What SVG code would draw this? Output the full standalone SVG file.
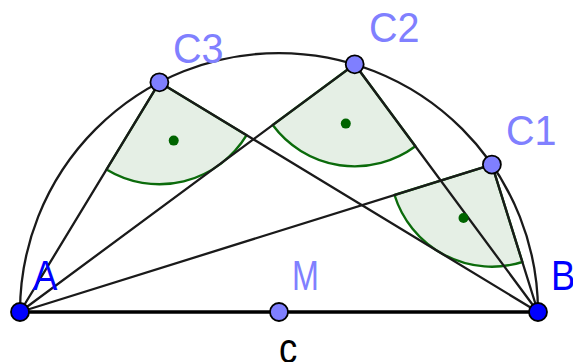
<svg xmlns="http://www.w3.org/2000/svg" width="573" height="362" viewBox="0 0 573 362">
<style>
.ln{stroke:#1a1a1a;stroke-width:2.3;fill:none;stroke-linecap:round}
.seg{stroke:#000;stroke-width:3.3;fill:none}
.sec{fill:#e5efe5;stroke:#0b6b0b;stroke-width:2.4;stroke-linejoin:round}
.gd{fill:#006400}
.pt{stroke:#000;stroke-width:1.8}
.pa{fill:#0000ff}
.pc{fill:#7f7fff}
.lb{font-family:"Liberation Sans",Arial,sans-serif;font-size:43px}
.lc{fill:#8080ff}
.lab{fill:#0000ff}
</style>
<g id="angles">
<path class="sec" d="M159.4 82.3 L106.5 169.5 A102 102 0 0 0 246.6 135.2 Z"/>
<path class="sec" d="M354.7 64.3 L272.7 125.0 A102 102 0 0 0 415.4 146.3 Z"/>
<path class="sec" d="M491.9 164.6 L394.5 195.0 A102 102 0 0 0 522.4 262.0 Z"/>
</g>
<g id="connectors">
<path class="ln" d="M20 312 A259 259 0 0 1 538 312"/>
<line class="ln" x1="20" y1="312" x2="159.4" y2="82.3"/>
<line class="ln" x1="20" y1="312" x2="354.7" y2="64.3"/>
<line class="ln" x1="20" y1="312" x2="491.9" y2="164.6"/>
<line class="ln" x1="538" y1="312" x2="159.4" y2="82.3"/>
<line class="ln" x1="538" y1="312" x2="354.7" y2="64.3"/>
<line class="ln" x1="538" y1="312" x2="491.9" y2="164.6"/>
<line class="seg" x1="20" y1="312" x2="538" y2="312"/>
</g>
<g id="angle-dots">
<circle class="gd" cx="173.7" cy="140.6" r="5"/>
<circle class="gd" cx="345.8" cy="123.6" r="5"/>
<circle class="gd" cx="463.5" cy="218" r="5"/>
</g>
<g id="C3"><circle class="pt pc" cx="159.4" cy="82.3" r="9"/><text class="lb lc" transform="translate(173 63) scale(0.92 1)">C3</text></g>
<g id="C2"><circle class="pt pc" cx="354.7" cy="64.3" r="9"/><text class="lb lc" transform="translate(369 42) scale(0.92 1)">C2</text></g>
<g id="C1"><circle class="pt pc" cx="491.9" cy="164.6" r="9"/><text class="lb lc" transform="translate(506 145) scale(0.92 1)">C1</text></g>
<g id="M"><circle class="pt pc" cx="279" cy="312" r="9"/><text class="lb lc" transform="translate(292 290) scale(0.75 1)">M</text></g>
<g id="A"><circle class="pt pa" cx="20" cy="312" r="9"/><text class="lb lab" transform="translate(33 290) scale(0.85 1)">A</text></g>
<g id="B"><circle class="pt pa" cx="538" cy="312" r="9"/><text class="lb lab" transform="translate(551 290) scale(0.85 1)">B</text></g>
<g id="c"><text class="lb" fill="#000" transform="translate(279 363) scale(0.85 1)">c</text></g>
</svg>
